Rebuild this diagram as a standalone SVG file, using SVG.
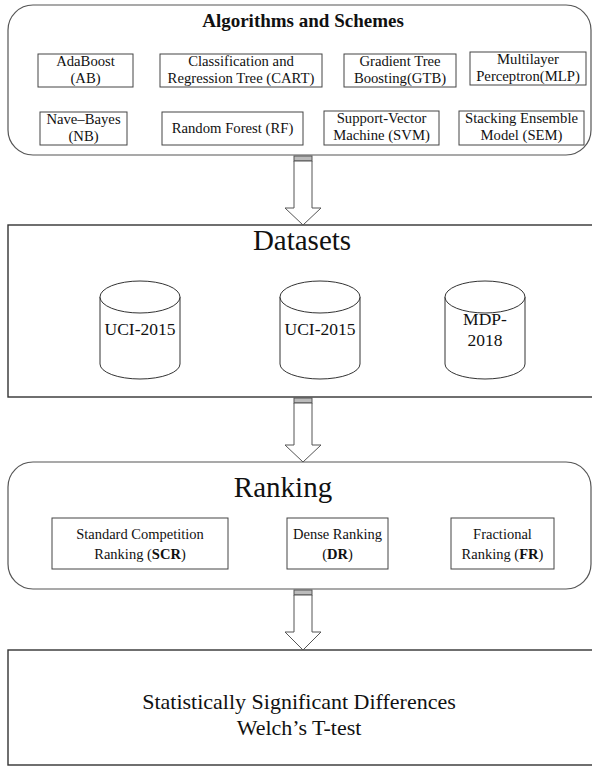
<svg xmlns="http://www.w3.org/2000/svg" width="592" height="766" viewBox="0 0 592 766">
<style>
text{font-family:"Liberation Serif","Times New Roman",serif;fill:#111;text-anchor:middle}
.big{stroke:#555;stroke-width:1.2;fill:#fff}
.sq{stroke:#333;stroke-width:1.4;fill:#fff}
.box{stroke:#444;stroke-width:1;fill:#fff}
.cyl{stroke:#333;stroke-width:1;fill:#fff}
.t15{font-size:14.7px}
.t14{font-size:14.5px}
.t18{font-size:17.5px}
.t29{font-size:29px}
.t22{font-size:22px}
.arrow{stroke:#555;stroke-width:1;fill:#fff}
.band{stroke:#555;stroke-width:1;fill:#bbb}
</style>
<rect width="592" height="766" fill="#fff"/>

<g id="algorithms">
<rect class="big" x="8" y="5" width="583" height="150" rx="25" ry="25"/>
<text x="303" y="27" style="font-size:19px;font-weight:bold">Algorithms and Schemes</text>
</g>
<g id="ab"><rect class="box" x="38" y="54" width="95" height="33"/><text class="t15" x="85.5" y="66">AdaBoost</text><text class="t15" x="85.5" y="83">(AB)</text></g>
<g id="cart"><rect class="box" x="160" y="54" width="162" height="33"/><text class="t15" x="241" y="66">Classification and</text><text class="t15" x="241" y="83">Regression Tree (CART)</text></g>
<g id="gtb"><rect class="box" x="344" y="54" width="112" height="33"/><text class="t15" x="400" y="66">Gradient Tree</text><text class="t15" x="400" y="83">Boosting(GTB)</text></g>
<g id="mlp"><rect class="box" x="470" y="52" width="116" height="33"/><text class="t15" x="528" y="64">Multilayer</text><text class="t15" x="528" y="81">Perceptron(MLP)</text></g>
<g id="nb"><rect class="box" x="40" y="112" width="87" height="33"/><text class="t15" x="83.5" y="124">Nave–Bayes</text><text class="t15" x="83.5" y="141">(NB)</text></g>
<g id="rf"><rect class="box" x="162" y="112" width="141" height="33"/><text class="t15" x="232.5" y="133">Random Forest (RF)</text></g>
<g id="svm"><rect class="box" x="324" y="111" width="115" height="34"/><text class="t15" x="381.5" y="123">Support-Vector</text><text class="t15" x="381.5" y="140">Machine (SVM)</text></g>
<g id="sem"><rect class="box" x="459" y="111" width="125" height="34"/><text class="t15" x="521.5" y="123">Stacking Ensemble</text><text class="t15" x="521.5" y="140">Model (SEM)</text></g>

<g id="datasets">
<rect class="sq" x="8" y="225" width="590" height="172"/>
<text class="t29" x="302" y="250">Datasets</text>
</g>
<g id="uci1">
<path class="cyl" d="M100,297 L100,364 A40,15 0 0 0 180,364 L180,297"/>
<ellipse class="cyl" cx="140" cy="297" rx="40" ry="16"/>
<text class="t18" x="140" y="335">UCI-2015</text>
</g>
<g id="uci2">
<path class="cyl" d="M280,297 L280,364 A40,15 0 0 0 360,364 L360,297"/>
<ellipse class="cyl" cx="320" cy="297" rx="40" ry="16"/>
<text class="t18" x="320" y="335">UCI-2015</text>
</g>
<g id="mdp">
<path class="cyl" d="M445,297 L445,364 A40,15 0 0 0 525,364 L525,297"/>
<ellipse class="cyl" cx="485" cy="297" rx="40" ry="16"/>
<text class="t18" x="485" y="325">MDP-</text>
<text class="t18" x="485" y="346">2018</text>
</g>

<g id="ranking">
<rect class="big" x="8" y="462" width="583" height="127" rx="25" ry="25"/>
<text class="t29" x="283" y="497">Ranking</text>
</g>
<g id="scr"><rect class="box" x="52" y="518" width="176" height="51"/><text class="t14" x="140" y="539">Standard Competition</text><text class="t14" x="140" y="559">Ranking (<tspan font-weight="bold">SCR</tspan>)</text></g>
<g id="dr"><rect class="box" x="287" y="518" width="101" height="51"/><text class="t14" x="337.5" y="539">Dense Ranking</text><text class="t14" x="337.5" y="559">(<tspan font-weight="bold">DR</tspan>)</text></g>
<g id="fr"><rect class="box" x="451" y="518" width="103" height="51"/><text class="t14" x="502.5" y="539">Fractional</text><text class="t14" x="502.5" y="559">Ranking (<tspan font-weight="bold">FR</tspan>)</text></g>

<g id="ttest">
<rect class="sq" x="8" y="650" width="590" height="115"/>
<text class="t22" x="299" y="709">Statistically Significant Differences</text>
<text class="t22" x="299" y="735">Welch’s T-test</text>
</g>

<g id="connectors">
<rect class="band" x="294" y="156" width="18" height="5"/>
<polygon class="arrow" points="294,161 312,161 312,208 321,208 303,225 285,208 294,208"/>
<rect class="band" x="294" y="398" width="18" height="5"/>
<polygon class="arrow" points="294,403 312,403 312,445 321,445 303,462 285,445 294,445"/>
<rect class="band" x="294" y="590" width="18" height="5"/>
<polygon class="arrow" points="294,595 312,595 312,632 321,632 303,650 285,632 294,632"/>
</g>
</svg>
